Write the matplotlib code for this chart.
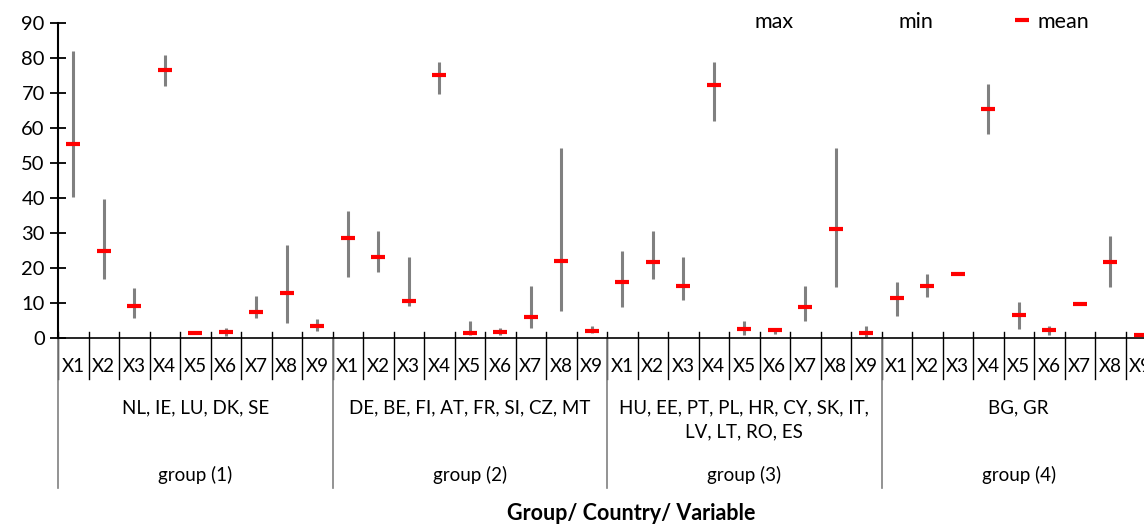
import matplotlib
matplotlib.use("Agg")
import matplotlib.pyplot as plt
import matplotlib.transforms as mtransforms
from matplotlib.lines import Line2D

plt.rcParams['font.family'] = ['Lato', 'DejaVu Sans']

variables = ['X1', 'X2', 'X3', 'X4', 'X5', 'X6', 'X7', 'X8', 'X9']
groups = ['group (1)', 'group (2)', 'group (3)', 'group (4)']
countries = ['NL, IE, LU, DK, SE',
             'DE, BE, FI, AT, FR, SI, CZ, MT',
             'HU, EE, PT, PL, HR, CY, SK, IT,\nLV, LT, RO, ES',
             'BG, GR']

# values per group, X1..X9
mean_g1 = [55.3, 25.0, 9.1, 76.7, 1.4, 1.6, 7.5, 12.9, 3.4]
min_g1 = [40.2, 16.8, 5.8, 72.1, 1.1, 0.7, 5.6, 4.4, 2.0]
max_g1 = [82.1, 39.6, 14.2, 80.9, 1.7, 3.0, 11.9, 26.6, 5.3]

mean_g2 = [28.6, 23.1, 10.6, 75.2, 1.5, 1.7, 5.9, 21.9, 2.1]
min_g2 = [17.4, 18.9, 9.2, 69.6, 0.9, 1.0, 3.0, 7.7, 1.3]
max_g2 = [36.3, 30.7, 23.2, 79.0, 5.0, 2.9, 14.9, 54.2, 3.3]

mean_g3 = [15.9, 21.8, 14.9, 72.3, 2.6, 2.3, 9.0, 31.1, 1.3]
min_g3 = [8.9, 16.8, 11.0, 61.9, 0.9, 1.1, 5.0, 14.6, 0.4]
max_g3 = [24.9, 30.7, 23.2, 79.0, 5.0, 2.8, 14.9, 54.2, 3.3]

mean_g4 = [11.3, 14.9, 18.4, 65.5, 6.6, 2.2, 9.8, 21.8, 1.0]
min_g4 = [6.4, 11.7, 18.2, 58.4, 2.7, 0.9, 9.6, 14.6, 0.8]
max_g4 = [16.1, 18.3, 18.6, 72.6, 10.4, 3.3, 10.0, 29.1, 1.2]

means = mean_g1 + mean_g2 + mean_g3 + mean_g4
mins = min_g1 + min_g2 + min_g3 + min_g4
maxs = max_g1 + max_g2 + max_g3 + max_g4

n_var = len(variables)
n = len(means)
xs = [i + 0.5 for i in range(n)]

fig = plt.figure(figsize=(11.44, 5.25), dpi=100)
# plot area runs past the right edge, like the original export
ax = fig.add_axes([58 / 1144, (525 - 338) / 525, 1098 / 1144, 315 / 525])

ax.vlines(xs, mins, maxs, color='#808080', linewidth=2.2, zorder=2)
ax.plot(xs, means, linestyle='none', marker='_', markersize=10.5,
        markeredgewidth=3.0, color='#ff0000', zorder=3)

ax.set_xlim(0, n)
ax.set_ylim(0, 90)
ax.set_yticks(range(0, 91, 10))
ax.tick_params(axis='y', direction='inout', length=11, width=1.3, labelsize=14.5, pad=4)
ax.set_xticks([])
for s in ['top', 'right']:
    ax.spines[s].set_visible(False)
ax.spines['left'].set_linewidth(1.5)
ax.spines['bottom'].set_linewidth(1.2)

# multi-level category axis
trans = mtransforms.blended_transform_factory(ax.transData, ax.transAxes)
h = 315.0
def ay(py):
    return (338 - py) / h

for i in range(n + 1):
    ax.plot([i, i], [ay(332), ay(379)], color='black', linewidth=1.0,
            transform=trans, clip_on=False)
for g in range(len(groups) + 1):
    ax.plot([g * n_var, g * n_var], [ay(338), ay(488)], color='#808080',
            linewidth=1.2, transform=trans, clip_on=False)

for i in range(n):
    ax.text(i + 0.5, ay(366), variables[i % n_var], transform=trans,
            ha='center', va='center', fontsize=13.5)
for g, (grp, ctry) in enumerate(zip(groups, countries)):
    cx = g * n_var + n_var / 2
    ax.text(cx, ay(399), ctry, transform=trans, ha='center', va='top',
            fontsize=13.5, linespacing=1.5)
    ax.text(cx, ay(475), grp, transform=trans, ha='center', va='center',
            fontsize=13.5)

fig.text(631 / 1144, (525 - 513) / 525, 'Group/ Country/ Variable',
         ha='center', va='center', fontsize=15.5, fontweight='bold')

handles = [Line2D([], [], linestyle='none'),
           Line2D([], [], linestyle='none'),
           Line2D([], [], linestyle='none', marker='_', markersize=10.5,
                  markeredgewidth=3.0, color='#ff0000')]
fig.legend(handles, ['max', 'min', 'mean'], ncol=3, frameon=False,
           loc='center left', bbox_to_anchor=(731 / 1144, (525 - 22) / 525),
           borderpad=0, borderaxespad=0, handlelength=0.8, handletextpad=0.3,
           columnspacing=3.75, fontsize=15.5)

fig.savefig('out.png', dpi=100)
